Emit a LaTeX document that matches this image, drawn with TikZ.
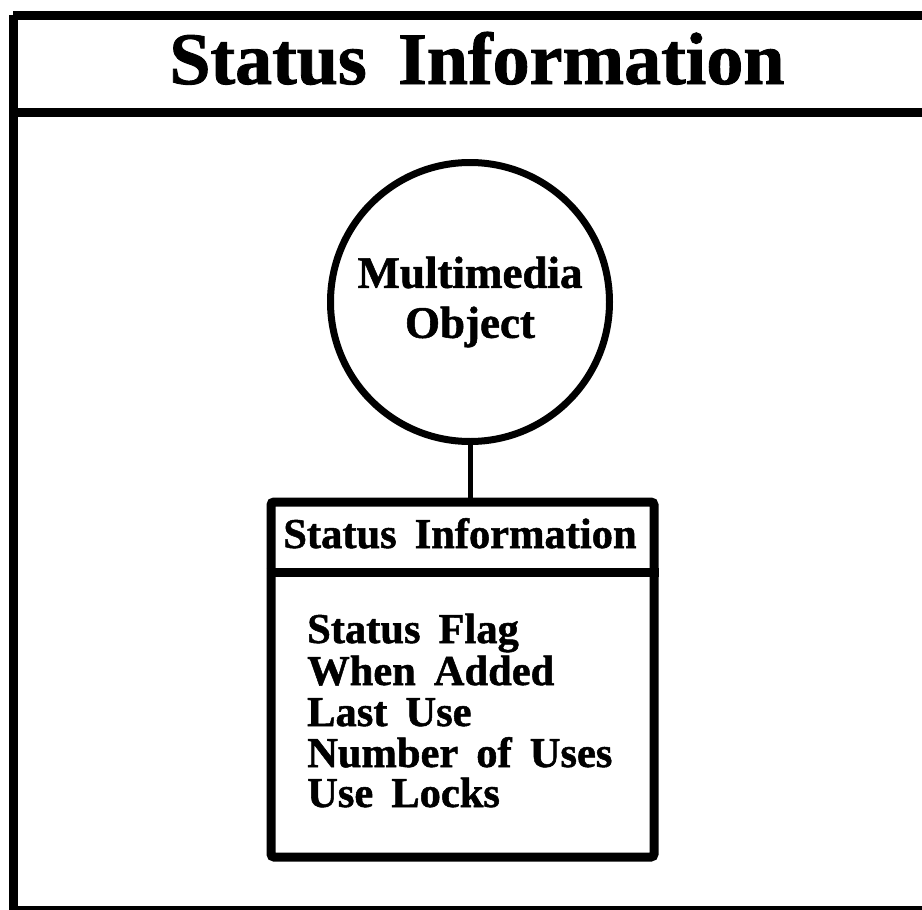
\documentclass[tikz,border=0pt]{standalone}
\usepackage{fontspec}
\setmainfont{Liberation Serif}[WordSpace=1.7, BoldFeatures={FakeBold=1.2}]
\begin{document}
\begin{tikzpicture}[x=1pt,y=-1pt,
  frameline/.style={line width=9pt},
  labeltext/.style={font=\fontsize{42.5}{42}\selectfont\bfseries, inner sep=0pt},
  objcircle/.style={circle, draw, line width=7pt, minimum size=279pt, inner sep=0pt,
    align=center, font=\fontsize{45}{50}\selectfont\bfseries},
  recordbox/.style={draw, line width=9pt, rounded corners=3pt, inner sep=0pt,
    minimum width=383pt, minimum height=355pt},
  link/.style={line width=5pt}]
  \useasboundingbox (0,0) rectangle (922,910);
  % page frame with title band
  \draw[frameline] (13,15) -- (960,15);
  \draw[frameline] (13,15) -- (13,910) -- (960,910);
  \draw[frameline] (13,112) -- (960,112);
  \node[anchor=base, inner sep=0pt, font=\fontsize{74}{74}\selectfont\bfseries]
    (title) at (477,84) {Status Information};
  % object and its status record
  \node[objcircle] (obj) at (470,302) {Multimedia\\Object};
  \node[recordbox] (rec) at (462.5,679.5) {};
  \draw[frameline] (rec.west |- 0,572.5) coordinate (sepL) -- (rec.east |- 0,572.5) coordinate (sepR);
  \draw[link] (obj.south) -- (obj.south |- rec.north);
  \node[labeltext, anchor=base] (rectitle) at (460,548) {Status Information};
  \node[labeltext, anchor=base west] (f1) at (307,643) {Status Flag};
  \node[labeltext, anchor=base west] (f2) at (307,685) {When Added};
  \node[labeltext, anchor=base west] (f3) at (307,726) {Last Use};
  \node[labeltext, anchor=base west] (f4) at (307,767) {Number of Uses};
  \node[labeltext, anchor=base west] (f5) at (307,807) {Use Locks};
\end{tikzpicture}
\end{document}
